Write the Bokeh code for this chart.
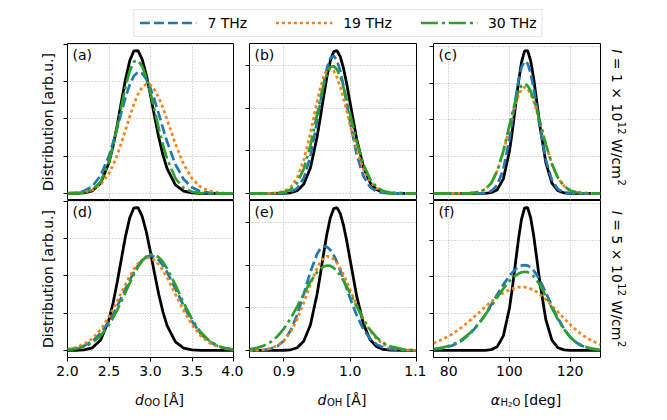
import math
from bokeh.plotting import figure
from bokeh.models import (Range1d, FixedTicker, Grid, Label, Legend, LegendItem,
                          CustomJSTickFormatter)
from bokeh.core.properties import value
from bokeh.layouts import column, row
from bokeh.embed import file_html
from bokeh.resources import INLINE

FONT = "DejaVu Sans"
FS = "14px"

# ---------------- data ----------------
series_names = ["7 THz", "19 THz", "30 THz"]
series_colors = ["#1f77b4", "#ff7f0e", "#2ca02c"]
series_dashes = ["10 4", "3 3", "17 4 3 4"]

# O-O distance column
x_doo = [2.0, 2.1, 2.2, 2.3, 2.4, 2.5, 2.55, 2.6, 2.65, 2.7, 2.75, 2.8, 2.85, 2.9, 2.95,
         3.0, 3.05, 3.1, 3.15, 3.2, 3.3, 3.4, 3.5, 3.6, 3.7, 3.8, 3.9, 4.0]
doo_ref = [0.000, 0.001, 0.006, 0.034, 0.138, 0.413, 0.640, 0.922, 1.235, 1.538, 1.780, 1.915,
           1.917, 1.801, 1.590, 1.318, 1.026, 0.750, 0.516, 0.333, 0.115, 0.031, 0.006, 0.001,
           0.000, 0.000, 0.000, 0.000]
doo_low_7 = [0.002, 0.009, 0.032, 0.095, 0.240, 0.504, 0.683, 0.884, 1.094, 1.293, 1.460, 1.578,
             1.629, 1.611, 1.535, 1.410, 1.248, 1.065, 0.875, 0.693, 0.389, 0.189, 0.079, 0.028,
             0.009, 0.002, 0.000, 0.000]
doo_low_19 = [0.001, 0.004, 0.014, 0.045, 0.120, 0.270, 0.383, 0.521, 0.682, 0.856, 1.033, 1.198,
              1.334, 1.428, 1.469, 1.454, 1.391, 1.285, 1.148, 0.990, 0.665, 0.390, 0.199, 0.089,
              0.034, 0.012, 0.003, 0.001]
doo_low_30 = [0.000, 0.002, 0.010, 0.045, 0.157, 0.427, 0.638, 0.893, 1.169, 1.433, 1.645, 1.769,
              1.783, 1.706, 1.553, 1.346, 1.110, 0.871, 0.651, 0.463, 0.202, 0.072, 0.021, 0.005,
              0.001, 0.000, 0.000, 0.000]
doo_high_7 = [0.011, 0.027, 0.061, 0.125, 0.231, 0.389, 0.487, 0.595, 0.711, 0.829, 0.945, 1.051,
              1.142, 1.211, 1.255, 1.270, 1.255, 1.211, 1.142, 1.051, 0.829, 0.595, 0.389, 0.231,
              0.125, 0.061, 0.027, 0.011]
doo_high_19 = [0.017, 0.039, 0.082, 0.159, 0.280, 0.452, 0.554, 0.664, 0.778, 0.891, 0.997, 1.090,
               1.165, 1.217, 1.243, 1.240, 1.209, 1.152, 1.073, 0.976, 0.755, 0.533, 0.343, 0.201,
               0.108, 0.053, 0.023, 0.010]
doo_high_30 = [0.008, 0.021, 0.048, 0.103, 0.197, 0.345, 0.439, 0.545, 0.661, 0.782, 0.904, 1.018,
               1.120, 1.202, 1.260, 1.287, 1.284, 1.250, 1.188, 1.101, 0.880, 0.637, 0.419, 0.250,
               0.135, 0.066, 0.029, 0.012]

# O-H distance column
x_doh = [0.848, 0.86, 0.87, 0.88, 0.89, 0.90, 0.91, 0.92, 0.93, 0.94, 0.95, 0.955, 0.96, 0.965,
         0.97, 0.975, 0.98, 0.985, 0.99, 0.995, 1.0, 1.01, 1.02, 1.03, 1.04, 1.05, 1.06, 1.08, 1.1]
doh_ref = [0, 0, 0, 0, 0.002, 0.012, 0.068, 0.31, 1.09, 3.02, 6.63, 8.98, 11.46, 13.78, 15.61,
           16.67, 16.79, 16.08, 14.67, 12.76, 10.58, 6.29, 3.09, 1.25, 0.42, 0.11, 0.03, 0, 0]
doh_low_7 = [0, 0, 0, 0.001, 0.005, 0.033, 0.156, 0.595, 1.80, 4.37, 8.44, 10.76, 12.97, 14.78,
             15.91, 16.18, 15.63, 14.37, 12.58, 10.48, 8.31, 4.50, 2.01, 0.73, 0.22, 0.05, 0.01, 0, 0]
doh_low_19 = [0, 0, 0.003, 0.015, 0.065, 0.24, 0.72, 1.83, 3.94, 7.11, 10.78, 12.44, 13.75, 14.55,
              14.74, 14.42, 13.65, 12.53, 11.13, 9.58, 7.99, 5.05, 2.81, 1.37, 0.59, 0.22, 0.08,
              0.01, 0]
doh_low_30 = [0, 0, 0.001, 0.008, 0.036, 0.138, 0.456, 1.25, 2.90, 5.66, 9.29, 11.14, 12.81, 14.09,
              14.84, 14.98, 14.57, 13.70, 12.44, 10.92, 9.27, 6.01, 3.41, 1.68, 0.72, 0.27, 0.09,
              0.01, 0]
doh_high_7 = [0.004, 0.018, 0.062, 0.19, 0.49, 1.14, 2.33, 4.20, 6.64, 9.25, 11.34, 11.97, 12.24,
              12.16, 11.80, 11.20, 10.38, 9.40, 8.33, 7.21, 6.09, 4.07, 2.47, 1.38, 0.70, 0.32,
              0.14, 0.02, 0.0]
doh_high_19 = [0.008, 0.032, 0.091, 0.24, 0.55, 1.15, 2.17, 3.68, 5.65, 7.79, 9.70, 10.40, 10.87,
               11.07, 11.01, 10.74, 10.27, 9.64, 8.87, 8.01, 7.10, 5.25, 3.60, 2.28, 1.34, 0.73,
               0.37, 0.07, 0.01]
doh_high_30 = [0.13, 0.30, 0.56, 0.99, 1.64, 2.56, 3.75, 5.15, 6.66, 8.08, 9.21, 9.61, 9.87, 9.98,
               9.93, 9.70, 9.33, 8.81, 8.17, 7.46, 6.69, 5.11, 3.63, 2.42, 1.50, 0.87, 0.47, 0.11,
               0.02]

# H-O-H angle column
x_ang = [75, 78, 81, 84, 87, 90, 92, 94, 96, 98, 100, 101, 102, 103, 104, 105, 106, 107, 108, 109,
         110, 112, 114, 116, 118, 120, 122, 124, 127, 130]
ang_ref = [0, 0, 0, 0, 0, 0.0, 0.0, 0.0004, 0.0020, 0.0079, 0.0228, 0.0343, 0.0476, 0.0607, 0.0715,
           0.0776, 0.0777, 0.0722, 0.0624, 0.0501, 0.0374, 0.0167, 0.0056, 0.0014, 0.0003, 0.0,
           0, 0, 0, 0]
ang_low_7 = [0, 0, 0, 0, 0, 0.0, 0.0002, 0.0012, 0.0045, 0.0131, 0.0296, 0.0403, 0.0514, 0.0614,
             0.0687, 0.0719, 0.0706, 0.0654, 0.0570, 0.0469, 0.0363, 0.0182, 0.0072, 0.0022,
             0.0005, 0.0001, 0, 0, 0, 0]
ang_low_19 = [0, 0, 0, 0.0, 0.0001, 0.0008, 0.0022, 0.0056, 0.0122, 0.0225, 0.0357, 0.0425, 0.0486,
              0.0535, 0.0567, 0.0578, 0.0569, 0.0542, 0.0501, 0.0448, 0.0388, 0.0265, 0.0159,
              0.0084, 0.0039, 0.0016, 0.0006, 0.0002, 0.0, 0]
ang_low_30 = [0, 0, 0, 0.0, 0.0001, 0.0007, 0.0021, 0.0055, 0.0123, 0.0230, 0.0369, 0.0440, 0.0505,
              0.0555, 0.0587, 0.0597, 0.0586, 0.0556, 0.0512, 0.0457, 0.0394, 0.0267, 0.0159,
              0.0084, 0.0039, 0.0016, 0.0006, 0.0002, 0, 0]
ang_high_7 = [0.0005, 0.0011, 0.0025, 0.0049, 0.0089, 0.0146, 0.0194, 0.0248, 0.0304, 0.0358,
              0.0405, 0.0425, 0.0441, 0.0453, 0.0461, 0.0464, 0.0461, 0.0452, 0.0434, 0.0411,
              0.0382, 0.0314, 0.0242, 0.0173, 0.0117, 0.0073, 0.0043, 0.0024, 0.0008, 0.0003]
ang_high_19 = [0.0039, 0.0060, 0.0087, 0.0122, 0.0162, 0.0206, 0.0236, 0.0265, 0.0291, 0.0313,
               0.0330, 0.0336, 0.0341, 0.0344, 0.0345, 0.0344, 0.0341, 0.0335, 0.0328, 0.0318,
               0.0306, 0.0277, 0.0242, 0.0209, 0.0174, 0.0141, 0.0111, 0.0084, 0.0053, 0.0032]
ang_high_30 = [0.0007, 0.0015, 0.0029, 0.0055, 0.0094, 0.0148, 0.0192, 0.0240, 0.0289, 0.0336,
               0.0377, 0.0394, 0.0407, 0.0418, 0.0425, 0.0428, 0.0426, 0.0418, 0.0403, 0.0382,
               0.0357, 0.0296, 0.0230, 0.0167, 0.0114, 0.0072, 0.0043, 0.0024, 0.0009, 0.0003]

# axes
xlim_doo = (2.0, 4.0)
xlim_doh = (0.848, 1.1)
xlim_ang = (75, 130)
xticks_doo = [2.0, 2.5, 3.0, 3.5, 4.0]
xlabels_doo = ["2.0", "2.5", "3.0", "3.5", "4.0"]
xticks_doh = [0.9, 1.0, 1.1]
xlabels_doh = ["0.9", "1.0", "1.1"]
xticks_ang = [80, 100, 120]
xlabels_ang = ["80", "100", "120"]
yticks_doo = [0, 0.5, 1.0, 1.5, 2.0]
yticks_doh = [0, 5, 10, 15]
yticks_ang = [0, 0.02, 0.04, 0.06, 0.08]
panel_letters = ["(a)", "(b)", "(c)", "(d)", "(e)", "(f)"]
ylabel_text = "Distribution [arb.u.]"
# rich-label pieces: (text, style, size px, baseline shift px, gap before px)
xlabel_doo = [("d", "italic", 14, 0, 0), ("OO", "normal", 10, -2.5, 0.5),
              ("[Å]", "normal", 14, 0, 3.5)]
xlabel_doh = [("d", "italic", 14, 0, 0), ("OH", "normal", 10, -2.5, 0.5),
              ("[Å]", "normal", 14, 0, 3.5)]
xlabel_ang = [("α", "italic", 14, 0, 0), ("H", "normal", 10, -2.5, 0.5),
              ("2", "normal", 7, -4, 0), ("O", "normal", 10, -2.5, 0),
              ("[deg]", "normal", 14, 0, 3.5)]
intensity_low = [("I", "italic", 14, 0, 0), ("= 1 × 10", "normal", 14, 0, 4.5),
                 ("12", "normal", 10, 5, 0.5), ("W/cm", "normal", 14, 0, 4.5),
                 ("2", "normal", 10, 5, 0.5)]
intensity_high = [("I", "italic", 14, 0, 0), ("= 5 × 10", "normal", 14, 0, 4.5),
                  ("12", "normal", 10, 5, 0.5), ("W/cm", "normal", 14, 0, 4.5),
                  ("2", "normal", 10, 5, 0.5)]

# approximate DejaVu Sans advance widths (em) used to lay out the label pieces
EM = {"d": 0.635, "O": 0.787, "H": 0.752, "2": 0.636, "α": 0.659, "I": 0.295, "1": 0.636,
      "5": 0.636, "0": 0.636, " ": 0.318, "[": 0.39, "]": 0.39, "Å": 0.684, "e": 0.615,
      "g": 0.635, "=": 0.838, "×": 0.838, "W": 0.989, "/": 0.337, "c": 0.55, "m": 0.974}


def piece_width(text, size):
    return sum(EM.get(ch, 0.6) for ch in text) * size


def pieces_length(pieces):
    return sum(piece_width(t, s) + g for t, _, s, _, g in pieces)


# ---------------- layout geometry (pixels) ----------------
W, H = 667, 420
FH = 157
FRAME_W = [166, 167, 167]
BORDER_LR = [(67, 10), (6, 10), (7, 10)]
FRAME_LEFT = [67, 249, 433]
LEGEND_H = 42
BOTTOM_AXIS_H = 24
RIGHT_W = W - sum(l + fw + r for (l, r), fw in zip(BORDER_LR, FRAME_W))
XLAB_H = H - LEGEND_H - (FH + 1) - (FH + BOTTOM_AXIS_H)


def make_panel(col, r, x, ref, curves, xlim, xticks, xlabels, yticks, letter):
    bottom = (r == 1)
    lb, rb = BORDER_LR[col]
    M = max([max(ref)] + [max(c) for c in curves])
    p = figure(frame_width=FRAME_W[col], frame_height=FH,
               x_range=Range1d(*xlim), y_range=Range1d(-0.05 * M, 1.05 * M),
               x_axis_location=("below" if bottom else None), y_axis_location="left",
               output_backend="svg", toolbar_location=None,
               min_border_left=lb, min_border_right=rb,
               min_border_top=(0 if bottom else 1),
               min_border_bottom=(BOTTOM_AXIS_H if bottom else 0))
    p.outline_line_color = "black"
    p.outline_line_width = 1
    p.background_fill_color = "white"
    p.border_fill_color = "white"
    p.grid.visible = False
    p.add_layout(Grid(dimension=0, ticker=FixedTicker(ticks=xticks), grid_line_color="#b0b0b0",
                      grid_line_dash="1 2", grid_line_width=0.9))
    p.add_layout(Grid(dimension=1, ticker=FixedTicker(ticks=yticks), grid_line_color="#b0b0b0",
                      grid_line_dash="1 2", grid_line_width=0.9))

    ya = p.yaxis[0]
    ya.ticker = FixedTicker(ticks=yticks)
    ya.formatter = CustomJSTickFormatter(code="return ''")
    ya.major_label_standoff = 0
    ya.major_tick_in = 0
    ya.major_tick_out = 4
    ya.major_tick_line_color = "black"
    ya.minor_tick_line_color = None
    ya.axis_line_color = None
    if col == 0:
        ya.axis_label = ylabel_text
        ya.axis_label_text_font = FONT
        ya.axis_label_text_font_size = FS
        ya.axis_label_text_font_style = "normal"
        ya.axis_label_text_color = "black"
        ya.axis_label_standoff = 8

    if bottom:
        xa = p.xaxis[0]
        xa.ticker = FixedTicker(ticks=xticks)
        xa.formatter = CustomJSTickFormatter(
            args=dict(tv=xticks, tl=xlabels),
            code="for (let i = 0; i < tv.length; i++) { if (Math.abs(tv[i] - tick) < 1e-9) return tl[i]; } return '';")
        xa.major_label_text_font = FONT
        xa.major_label_text_font_size = FS
        xa.major_label_text_color = "black"
        xa.major_label_standoff = 4
        xa.major_tick_in = 0
        xa.major_tick_out = 4
        xa.major_tick_line_color = "black"
        xa.minor_tick_line_color = None
        xa.axis_line_color = None

    p.line(x, ref, line_color="black", line_width=2.8)
    for c, col_, dash in zip(curves, series_colors, series_dashes):
        p.line(x, c, line_color=col_, line_width=2.7, line_dash=dash)

    p.add_layout(Label(x=5, y=FH - 3, x_units="screen", y_units="screen", text=letter,
                       text_font=FONT, text_font_size=FS, text_color="black",
                       text_align="left", text_baseline="top"))
    return p


def text_strip(width, height):
    s = figure(frame_width=width, frame_height=height, min_border=0,
               x_axis_location=None, y_axis_location=None,
               x_range=Range1d(0, width), y_range=Range1d(0, height),
               output_backend="svg", toolbar_location=None)
    s.outline_line_color = None
    s.grid.visible = False
    s.background_fill_color = "white"
    s.border_fill_color = "white"
    return s


def add_pieces(s, pieces, x0, y0, angle=0.0):
    """Lay out rich-text pieces along the reading direction."""
    ca, sa = math.cos(angle), math.sin(angle)
    pos = 0.0
    for t, st, size, shift, gap in pieces:
        pos += gap
        px = x0 + pos * ca - shift * sa
        py = y0 + pos * sa + shift * ca
        s.text(x=[px], y=[py], text=[t], angle=angle, text_font=value(FONT),
               text_font_size=value(f"{size}px"), text_font_style=st, text_color="black",
               text_align="left", text_baseline="alphabetic")
        pos += piece_width(t, size)


pa = make_panel(0, 0, x_doo, doo_ref, [doo_low_7, doo_low_19, doo_low_30], xlim_doo, xticks_doo,
                xlabels_doo, yticks_doo, panel_letters[0])
pb = make_panel(1, 0, x_doh, doh_ref, [doh_low_7, doh_low_19, doh_low_30], xlim_doh, xticks_doh,
                xlabels_doh, yticks_doh, panel_letters[1])
pc = make_panel(2, 0, x_ang, ang_ref, [ang_low_7, ang_low_19, ang_low_30], xlim_ang, xticks_ang,
                xlabels_ang, yticks_ang, panel_letters[2])
pd = make_panel(0, 1, x_doo, doo_ref, [doo_high_7, doo_high_19, doo_high_30], xlim_doo, xticks_doo,
                xlabels_doo, yticks_doo, panel_letters[3])
pe = make_panel(1, 1, x_doh, doh_ref, [doh_high_7, doh_high_19, doh_high_30], xlim_doh, xticks_doh,
                xlabels_doh, yticks_doh, panel_letters[4])
pf = make_panel(2, 1, x_ang, ang_ref, [ang_high_7, ang_high_19, ang_high_30], xlim_ang, xticks_ang,
                xlabels_ang, yticks_ang, panel_letters[5])

# right-hand intensity labels (rotated, reading top to bottom)
rt = text_strip(RIGHT_W, FH + 1)
add_pieces(rt, intensity_low, 6, 84 + pieces_length(intensity_low) / 2, angle=-math.pi / 2)
rbm = text_strip(RIGHT_W, FH + BOTTOM_AXIS_H)
add_pieces(rbm, intensity_high, 6, BOTTOM_AXIS_H + FH / 2 + pieces_length(intensity_high) / 2,
           angle=-math.pi / 2)

# x-axis labels strip
xs = text_strip(W, XLAB_H)
for pieces, fl, fw in zip([xlabel_doo, xlabel_doh, xlabel_ang], FRAME_LEFT, FRAME_W):
    add_pieces(xs, pieces, fl + fw / 2 - pieces_length(pieces) / 2, XLAB_H - 18)

# legend strip
lg = figure(frame_width=W - 9, frame_height=29, min_border_left=9, min_border_right=0,
            min_border_top=LEGEND_H - 29 - 5, min_border_bottom=5,
            x_axis_location=None, y_axis_location=None,
            x_range=Range1d(0, 1), y_range=Range1d(0, 1), output_backend="svg",
            toolbar_location=None)
lg.outline_line_color = None
lg.grid.visible = False
items = []
for name, c, d, yy in zip(series_names, series_colors, series_dashes,
                          [doo_low_7, doo_low_19, doo_low_30]):
    # legend proxies: real series drawn outside this strip's visible range
    rr = lg.line(x=x_doo, y=yy, line_color=c, line_width=2.7, line_dash=d)
    items.append(LegendItem(label=name, renderers=[rr]))
legend = Legend(items=items, orientation="horizontal", location="center",
                glyph_width=57, glyph_height=15, label_standoff=11, spacing=28, padding=5,
                label_height=15, label_text_font=FONT, label_text_font_size=FS,
                label_text_color="black", label_text_baseline="middle",
                border_line_color="#cccccc", border_line_width=1, background_fill_color="white",
                background_fill_alpha=1.0, margin=0)
lg.add_layout(legend, "center")

layout = column(lg, row(pa, pb, pc, rt), row(pd, pe, pf, rbm), xs)
open("out.html", "w").write(file_html(layout, INLINE))
